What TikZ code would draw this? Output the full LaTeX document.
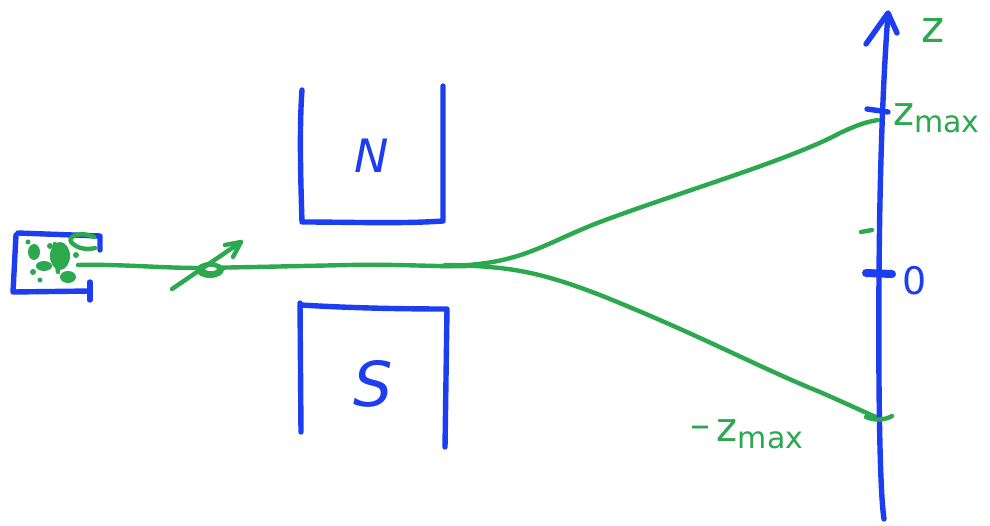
\documentclass[tikz,border=0pt]{standalone}
\usepackage{fontspec}
\setmainfont{DejaVu Sans}
\usetikzlibrary{arrows.meta}
\definecolor{inkblue}{RGB}{28,62,240}
\definecolor{inkgreen}{RGB}{44,168,78}
\tikzset{
  blueink/.style={draw=inkblue,line width=5.4pt,line cap=round,line join=round},
  greenink/.style={draw=inkgreen,line width=4.4pt,line cap=round,line join=round},
  greenfill/.style={fill=inkgreen,draw=none},
  lbl/.style={inner sep=0pt,font=\fontsize{#1}{#1}\selectfont\itshape},
}
\newcommand{\maxsub}{\raisebox{-7pt}{\fontsize{30}{30}\selectfont max}}
\begin{document}
\begin{tikzpicture}[x=1pt,y=-1pt]
\useasboundingbox[fill=white] (0,0) rectangle (990,526);

% oven
\draw[blueink] (18,233) -- (100,236) -- (100,250);
\draw[blueink] (16,235) -- (13,292) -- (90,291);
\draw[blueink] (90,282) -- (90,300);
% hot atoms inside the oven
\fill[greenfill] (60,256) ellipse (10 and 14);
\fill[greenfill] (68,277) ellipse (8 and 6);
\fill[greenfill] (34,252) ellipse (6 and 8);
\fill[greenfill] (44,266) ellipse (8 and 5);
\fill[greenfill] (33,272) circle (3);
\fill[greenfill] (50,246) circle (3);
\fill[greenfill] (76,255) circle (3);
\fill[greenfill] (28,242) circle (2.5);
\fill[greenfill] (40,280) circle (2.5);
\draw[greenink] (55,244) -- (58,272);
\draw[greenink] (94,237) .. controls (78,230) and (66,238) .. (72,243)
  .. controls (78,249) and (88,250) .. (95,248);

% beam coordinates
\coordinate (src) at (78,265);
\coordinate (split) at (468,266);
\coordinate (top) at (878,120);
\coordinate (bot) at (878,418);

% beam from oven to splitting point
\draw[greenink] (src) .. controls (120,264) and (160,268) .. (200,268)
  .. controls (260,267) and (300,266) .. (350,265)
  .. controls (400,264) and (440,267) .. (split);
% upper and lower branches
\draw[greenink] (440,266) .. controls (520,266) and (540,245) .. (600,222)
  .. controls (680,192) and (790,160) .. (840,133)
  .. controls (855,126) and (865,122) .. (top);
\draw[greenink] (445,265) .. controls (510,266) and (540,272) .. (600,295)
  .. controls (700,335) and (760,368) .. (820,392)
  .. controls (845,403) and (860,410) .. (bot);

% spinning atom with its moment
\fill[inkgreen] (210,270) ellipse (14 and 8);
\fill[white] (211,269) ellipse (6 and 2);
\coordinate (spinA) at (172,289);
\coordinate (spinB) at (241,242);
\draw[greenink] (spinA) -- (spinB);
\draw[greenink] (225,245) -- (241,242) -- (233,257);

% north pole
\draw[blueink] (302,90) .. controls (299,130) and (301,190) .. (302,222)
  .. controls (350,222) and (400,224) .. (443,221) -- (443,86);
\node[lbl=46,text=inkblue] (N) at (372,156) {N};
% south pole
\draw[blueink] (300,303) -- (301,432);
\draw[blueink] (301,305) .. controls (350,308) and (400,309) .. (447,309) -- (445,447);
\node[lbl=62,text=inkblue] (S) at (373,384) {S};

% detection screen / z axis
\coordinate (axisbot) at (884,519);
\coordinate (axistop) at (888,14);
\draw[blueink] (axisbot) .. controls (878,480) and (878,300) .. (880,200)
  .. controls (882,100) and (886,40) .. (axistop);
\draw[blueink] (866,44) -- (888,13) -- (897,33);
\node[text=inkgreen,inner sep=0pt,font=\fontsize{44}{44}\selectfont] (zlab) at (933,30) {z};

% ticks
\draw[blueink] (867,109) -- (888,112);
\draw[blueink,line width=8pt] (866,273) -- (892,274);
\draw[greenink] (861,232) -- (872,230);
\draw[greenink] (866,417) .. controls (875,421) and (885,420) .. (892,416);

% tick labels
\node[text=inkgreen,inner sep=0pt,font=\fontsize{40}{40}\selectfont,anchor=west] (zmax) at (893,118) {z\maxsub};
\node[text=inkblue,inner sep=0pt,font=\fontsize{38}{38}\selectfont] (zero) at (915,281) {0};
\node[text=inkgreen,inner sep=0pt,font=\fontsize{40}{40}\selectfont,anchor=west] (mzmax) at (690,434) {\raisebox{3pt}{–}\,z\maxsub};
\end{tikzpicture}
\end{document}
